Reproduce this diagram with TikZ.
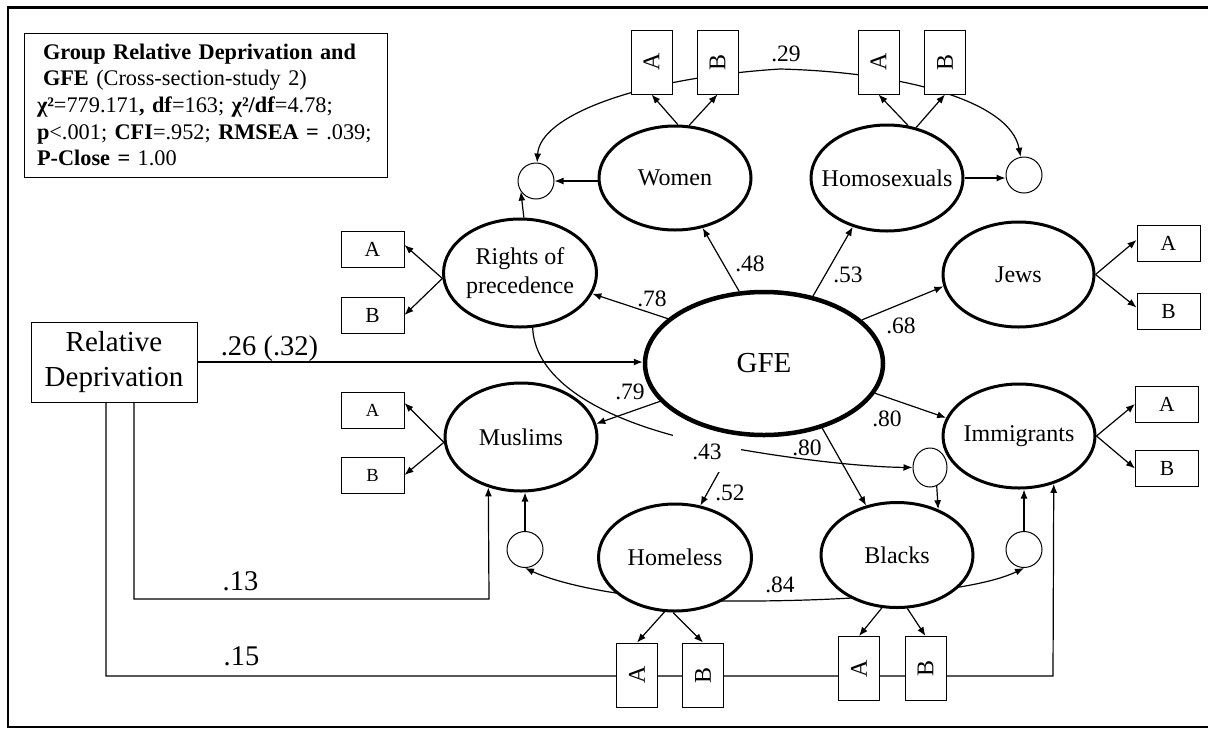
\documentclass[tikz,border=0pt]{standalone}
\usepackage{fontspec}
\setmainfont{Liberation Serif}
\usetikzlibrary{arrows.meta,shapes.geometric}
\pgfdeclarelayer{bg}
\pgfdeclarelayer{mid}
\pgfsetlayers{bg,mid,main}
\begin{document}
\begin{tikzpicture}[x=1pt,y=-1pt,
  lat/.style={ellipse, draw, line width=3pt, fill=white, inner sep=0pt, font=\fontsize{24}{29}\selectfont},
  err/.style={circle, draw, line width=1pt, fill=white, minimum size=36pt, inner sep=0pt},
  tbox/.style={draw, line width=1pt, fill=white, minimum width=41pt, minimum height=64pt, inner sep=0pt, font=\fontsize{24}{24}\selectfont},
  wbox/.style={draw, line width=1pt, fill=white, minimum width=63pt, minimum height=36pt, inner sep=0pt, font=\fontsize{21.5}{22}\selectfont},
  sbox/.style={wbox, font=\fontsize{18.5}{20}\selectfont},
  conn/.style={line width=1.2pt, -{Latex[length=9pt,width=7pt]}},
  coef/.style={anchor=base, inner sep=0pt, font=\fontsize{23.5}{24}\selectfont},
  bigcoef/.style={anchor=base, inner sep=0pt, font=\fontsize{28.5}{30}\selectfont}]
\useasboundingbox (0,0) rectangle (1208,729);
\draw[line width=2.5pt] (8,7.5) rectangle (1216,727);

% info box
\node[draw, line width=1pt, minimum width=363pt, minimum height=144pt, inner xsep=13pt, inner ysep=0pt,
  text width=337pt, align=left, font=\fontsize{22.3}{26.7}\selectfont] (info) at (205.5,105)
  {\hspace*{6pt}\textbf{Group Relative Deprivation and}\\
   \hspace*{6pt}\textbf{GFE} (Cross-section-study 2)\\
   \textbf{χ²}=779.171\textbf{, df}=163; \textbf{χ²/df}=4.78;\\
   \textbf{p}<.001; \textbf{CFI}=.952; \textbf{RMSEA =} .039;\\
   \textbf{P-Close =} 1.00};

% latent variables
\node[lat, minimum width=152pt, minimum height=104pt] (women) at (675,178) {\makebox[0pt]{Women}};
\node[lat, minimum width=152pt, minimum height=106pt] (homo) at (887,178) {\makebox[0pt]{Homosexuals}};
\node[lat, minimum width=153pt, minimum height=108pt] (rights) at (520,273)
  {\makebox[0pt]{\begin{tabular}{@{}c@{}}Rights of\\precedence\end{tabular}}};
\node[lat, minimum width=151pt, minimum height=105pt] (jews) at (1018.5,274.5) {\makebox[0pt]{Jews}};
\node[lat, line width=4.5pt, minimum width=238pt, minimum height=143pt, font=\fontsize{29}{30}\selectfont] (gfe) at (764,363.5) {GFE};
\node[lat, minimum width=152pt, minimum height=108pt] (muslims) at (521,437) {\makebox[0pt]{Muslims}};
\node[lat, minimum width=152pt, minimum height=104pt] (immig) at (1019,436) {\makebox[0pt]{Immigrants}};
\node[lat, minimum width=153pt, minimum height=107pt] (homeless) at (675,557.5) {\makebox[0pt]{Homeless}};
\node[lat, minimum width=152pt, minimum height=105pt] (blacks) at (897,555) {\makebox[0pt]{Blacks}};

% residual circles
\node[err] (c1) at (536,181) {};
\node[err] (c2) at (1024,175) {};
\node[err] (c3) at (525,549.5) {};
\node[err] (c4) at (1024,549.5) {};
\node[ellipse, draw, line width=1pt, fill=white, minimum width=34pt, minimum height=39pt, inner sep=0pt] (c5) at (930,467.5) {};

% indicator boxes
\node[tbox] (wA) at (651.5,62) {\rotatebox{90}{A}};
\node[tbox] (wB) at (717.5,62) {\rotatebox{90}{B}};
\node[tbox] (hA) at (878.5,62) {\rotatebox{90}{A}};
\node[tbox] (hB) at (945,62) {\rotatebox{90}{B}};
\node[tbox] (hlA) at (637,675) {\rotatebox{90}{A}};
\node[tbox] (hlB) at (703,675) {\rotatebox{90}{B}};
\node[tbox] (bA) at (859,668.5) {\rotatebox{90}{A}};
\node[tbox] (bB) at (925.5,668.5) {\rotatebox{90}{B}};
\node[wbox] (rA) at (372.5,249) {A};
\node[wbox] (rB) at (372.5,315) {B};
\node[sbox] (mA) at (372.5,410) {A};
\node[sbox] (mB) at (372.5,475) {B};
\node[wbox] (jA) at (1168.5,243) {A};
\node[wbox] (jB) at (1168.5,311.5) {B};
\node[wbox] (iA) at (1167,404) {A};
\node[wbox] (iB) at (1167,468.5) {B};

% relative deprivation
\node[draw, line width=1pt, fill=white, minimum width=166pt, minimum height=80pt, inner sep=0pt,
  align=center, font=\fontsize{29}{35}\selectfont] (rd) at (114,362) {Relative\\Deprivation};

\coordinate (k13) at (489,599);
\coordinate (k15) at (1053,676);

% labels
\node[coef] (l29) at (786,61) {.29};
\node[coef] (l48) at (750,271) {.48};
\node[coef] (l78) at (652,306) {.78};
\node[coef] (l53) at (848,282) {.53};
\node[coef] (l68) at (901,333) {.68};
\node[coef] (l80a) at (887,426) {.80};
\node[coef] (l80b) at (807,455) {.80};
\node[coef] (l79) at (630,399) {.79};
\node[coef] (l52) at (730,500) {.52};
\node[coef] (l84) at (780,592) {.84};
\node[bigcoef] (l26) at (269.5,355) {.26 (.32)};
\node[bigcoef] (l13) at (240.5,590) {.13};
\node[bigcoef] (l15) at (241.5,665) {.15};

\begin{pgfonlayer}{mid}
\node[fill=white, inner sep=0pt, minimum width=68pt, minimum height=40pt, font=\fontsize{23.5}{24}\selectfont] (l43) at (707,452) {.43\hspace{13pt}};
\end{pgfonlayer}

\begin{pgfonlayer}{bg}
% covariances
\draw[line width=1.2pt, {Latex[length=9pt,width=7pt]}-{Latex[length=9pt,width=7pt]}]
  (c1) .. controls (540,115) and (640,78) .. (780,69) .. controls (900,72) and (1010,100) .. (c2);
\draw[line width=1.2pt, {Latex[length=9pt,width=7pt]}-{Latex[length=9pt,width=7pt]}]
  (c3.south) .. controls (555,582) and (620,600) .. (720,601) .. controls (850,602) and (975,592) .. (c4.south);
\draw[conn] (rights.-77) .. controls (535,380) and (600,420) .. (700,442) .. controls (780,458) and (860,467) .. (c5.west);

% indicators
\draw[conn] (women.87) -- (wA.south);
\draw[conn] (women.75) -- (wB.south);
\draw[conn] (homo.68) -- (hA.south);
\draw[conn] (homo.60) -- (hB.south);
\draw[conn] (rights.184) -- ([yshift=4pt]rA.east);
\draw[conn] (rights.184) -- (rB.east);
\draw[conn] (muslims.184) -- ([yshift=7pt]mA.east);
\draw[conn] (muslims.184) -- (mB.east);
\draw[conn] (jews.east) -- ([yshift=3pt]jA.west);
\draw[conn] (jews.east) -- ([yshift=4pt]jB.west);
\draw[conn] (immig.east) -- (iA.west);
\draw[conn] (immig.east) -- (iB.west);
\draw[conn] (homeless.259) -- (hlA.north);
\draw[conn] (homeless.268) -- (hlB.north);
\draw[conn] (blacks.254) -- (bA.north);
\draw[conn] (blacks.281) -- (bB.north);

% residual paths
\draw[conn] (c1.east -| women.west) -- (c1.east);
\draw[conn] (homo.east) -- (homo.east -| c2.west);
\draw[conn] (rights.86) -- (c1.215);
\draw[conn] (c3.north) -- (c3.north |- muslims.south);
\draw[conn] (c4.north) -- (c4.north |- immig.south);
\draw[conn] (c5.-70) -- (blacks.48);

% structural paths
\draw[conn] (gfe.155) -- (rights.-16);
\draw[conn] (gfe.109) -- (women.-61);
\draw[conn] (gfe.54) -- (homo.235);
\draw[conn] (gfe.24) -- (jews.189);
\draw[conn] (gfe.-15) -- (immig.166);
\draw[conn] (gfe.-48.5) -- (blacks.122);
\draw[conn] (gfe.200) -- (muslims.10);
\draw[conn] (gfe.251) -- (homeless.64);
\draw[conn] (rd.east) -- (rd.east -| gfe.west);
\draw[conn] ([xshift=20pt]rd.south) |- (k13) -- (muslims.237);
\draw[conn] ([xshift=-8pt]rd.south) |- (k15) -- (immig.-54);
\end{pgfonlayer}
\end{tikzpicture}
\end{document}
